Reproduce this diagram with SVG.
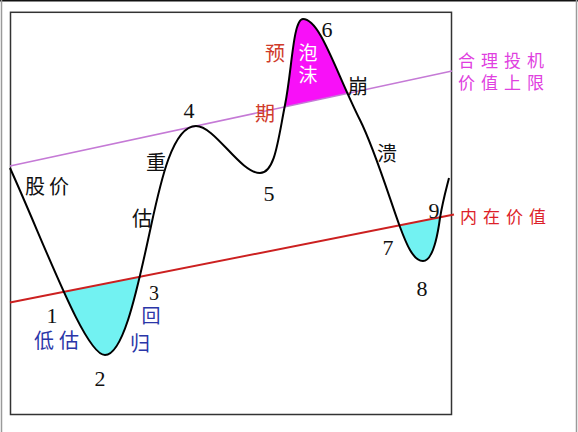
<svg xmlns="http://www.w3.org/2000/svg" width="578" height="432" viewBox="0 0 578 432">
<defs>
<style>
.cjk{font-family:"Noto Sans CJK SC","Liberation Sans",sans-serif;font-size:20px;dominant-baseline:central;text-anchor:middle}
.num{font-family:"Liberation Serif",serif;font-size:22px;fill:#111;dominant-baseline:central;text-anchor:middle}
.blk{fill:#111}
.red{fill:#d03a2a}
.blue{fill:#2a36a8}
.mag{fill:#e040e0}
.crimson{fill:#dd1f2a}
.wh{fill:#ffffff}
.side{font-size:17px;letter-spacing:6px;text-anchor:start}
</style>
<clipPath id="belowRed"><polygon points="0,304.5 578,190 578,432 0,432"/></clipPath>
<clipPath id="abovePurple"><polygon points="0,168.1 578,43.9 578,0 0,0"/></clipPath>
</defs>
<rect width="578" height="432" fill="#ffffff"/>
<line x1="0" y1="0.75" x2="578" y2="0.75" stroke="#111" stroke-width="1.5"/>
<line x1="1.5" y1="0" x2="1.5" y2="432" stroke="#9a9a9a" stroke-width="1.5"/>
<line x1="576.5" y1="0" x2="576.5" y2="432" stroke="#9a9a9a" stroke-width="1.5"/>
<rect x="10.5" y="12.3" width="441" height="402.2" fill="none" stroke="#333" stroke-width="1.5"/>

<g id="fills">
<path clip-path="url(#belowRed)" fill="#72f2f2" d="M10,168 C45,245 85,355 105,355 C122,355 135,300 148,240 Z"/>
<path clip-path="url(#belowRed)" fill="#72f2f2" d="M360,120 C375,150 390,200 400,227 C406,243 413,261 423,261 C432,261 437,240 440,218 C443,200 446,190 449,178 Z"/>
<path clip-path="url(#abovePurple)" fill="#f810f8" d="M260,173 C275,173 278,140 285,105 C292,70 293,19 303,19 C320,19 335,70 360,120 Z"/>
</g>

<g id="connectors">
<line id="upper-limit" x1="10" y1="166" x2="452" y2="71" stroke="#c57ad6" stroke-width="1.5"/>
<line id="intrinsic" x1="10" y1="302.5" x2="454" y2="214.6" stroke="#cc2020" stroke-width="2"/>
<path id="price" fill="none" stroke="#000" stroke-width="2" stroke-linejoin="round" d="M10,168 C45,245 85,355 105,355 C122,355 135,300 148,240 C158,195 170,126 196,126 C215,126 240,173 260,173 C275,173 278,140 285,105 C292,70 293,19 303,19 C320,19 335,70 360,120 C375,150 390,200 400,227 C406,243 413,261 423,261 C432,261 437,240 440,218 C443,200 446,190 449,178"/>
</g>

<g id="labels">
<text class="cjk blk" x="25" y="185" style="text-anchor:start;letter-spacing:4px">股价</text>
<text class="cjk blk" x="156" y="161">重</text>
<text class="cjk blk" x="142" y="217">估</text>
<text class="cjk red" x="275" y="52">预</text>
<text class="cjk red" x="265" y="112">期</text>
<text class="cjk wh" x="308" y="51" style="font-size:19px">泡</text>
<text class="cjk wh" x="308" y="73" style="font-size:19px">沫</text>
<text class="cjk blk" x="358" y="85">崩</text>
<text class="cjk blk" x="387" y="152">溃</text>
<text class="cjk mag side" x="458" y="59">合理投机</text>
<text class="cjk mag side" x="458" y="81">价值上限</text>
<text class="cjk crimson side" x="460" y="215">内在价值</text>
<text class="cjk blue" x="34" y="339" style="text-anchor:start;letter-spacing:5px">低估</text>
<text class="cjk blue" x="151" y="314" style="font-size:19px">回</text>
<text class="cjk blue" x="140" y="342">归</text>
<text class="num" x="52" y="315">1</text>
<text class="num" x="100" y="378">2</text>
<text class="num" x="154" y="293" style="font-size:20px">3</text>
<text class="num" x="189" y="110">4</text>
<text class="num" x="269" y="193">5</text>
<text class="num" x="327" y="29">6</text>
<text class="num" x="388" y="247">7</text>
<text class="num" x="422" y="288">8</text>
<text class="num" x="434" y="210">9</text>
</g>
</svg>
